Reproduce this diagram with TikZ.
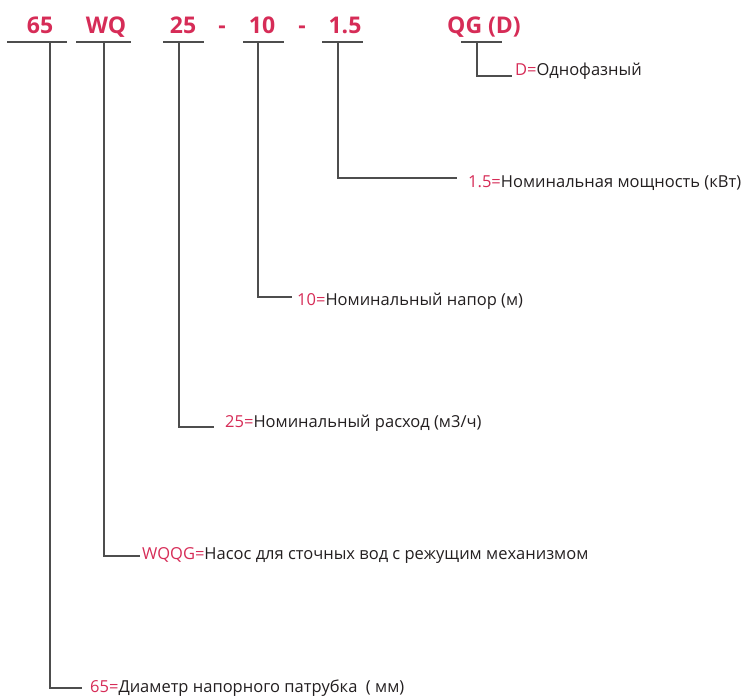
\documentclass[tikz,border=0pt]{standalone}
\usepackage{fontspec}
\setmainfont{Open Sans}
\definecolor{codered}{HTML}{D62C57}
\definecolor{txt}{HTML}{231F20}
\definecolor{ln}{HTML}{4D4D4D}
\begin{document}
\begin{tikzpicture}[x=1pt,y=-1pt,
  code/.style={font=\fontsize{23}{23}\selectfont\bfseries, text=codered, anchor=base, inner sep=0pt},
  desc/.style={font=\fontsize{16.5}{16.5}\selectfont, text=txt, anchor=base west, inner sep=0pt},
  lead/.style={draw=ln, line width=1.1pt}]
\useasboundingbox (0,0) rectangle (744,697);
% code parts
\node[code] (c65) at (40,33) {65};
\node[code] (cwq) at (106,33) {WQ};
\node[code] (c25) at (183,33) {25};
\node[code] (h1)  at (222,33) {-};
\node[code] (c10) at (262,33) {10};
\node[code] (h2)  at (302,33) {-};
\node[code] (c15) at (345,33) {1.5};
\node[code] (cqg) at (484,33) {QG (D)};
% underlines
\draw[lead] (7,42) -- (67,42);
\draw[lead] (76,42) -- (131,42);
\draw[lead] (163,42) -- (204,42);
\draw[lead] (243,42) -- (284,42);
\draw[lead] (322,42) -- (363,42);
\draw[lead] (461,42) -- (502,42);
% leader start points
\coordinate (u65) at (50,42);
\coordinate (uwq) at (104,42);
\coordinate (u25) at (179,42);
\coordinate (u10) at (258,42);
\coordinate (u15) at (338,42);
\coordinate (uqg) at (477,42);
% leader end points
\coordinate (eD)  at (512,76);
\coordinate (e15) at (457,178);
\coordinate (e10) at (292,297);
\coordinate (e25) at (214,427);
\coordinate (ewq) at (140,556);
\coordinate (e65) at (82,688);
% descriptions
\node[desc] (dD)  at (515,75)  {\textcolor{codered}{D=}Однофазный};
\node[desc] (d15) at (468,187) {\textcolor{codered}{1.5=}Номинальная мощность (кВт)};
\node[desc] (d10) at (297,305) {\textcolor{codered}{10=}Номинальный напор (м)};
\node[desc] (d25) at (225,427) {\textcolor{codered}{25=}Номинальный расход (м3/ч)};
\node[desc] (dwq) at (142,559) {\textcolor{codered}{WQQG=}Насос для сточных вод с режущим механизмом};
\node[desc] (d65) at (90,692)  {\textcolor{codered}{65=}Диаметр напорного патрубка\ \ ( мм)};
% leaders
\draw[lead] (uqg) |- (eD);
\draw[lead] (u15) |- (e15);
\draw[lead] (u10) |- (e10);
\draw[lead] (u25) |- (e25);
\draw[lead] (uwq) |- (ewq);
\draw[lead] (u65) |- (e65);
\end{tikzpicture}
\end{document}
